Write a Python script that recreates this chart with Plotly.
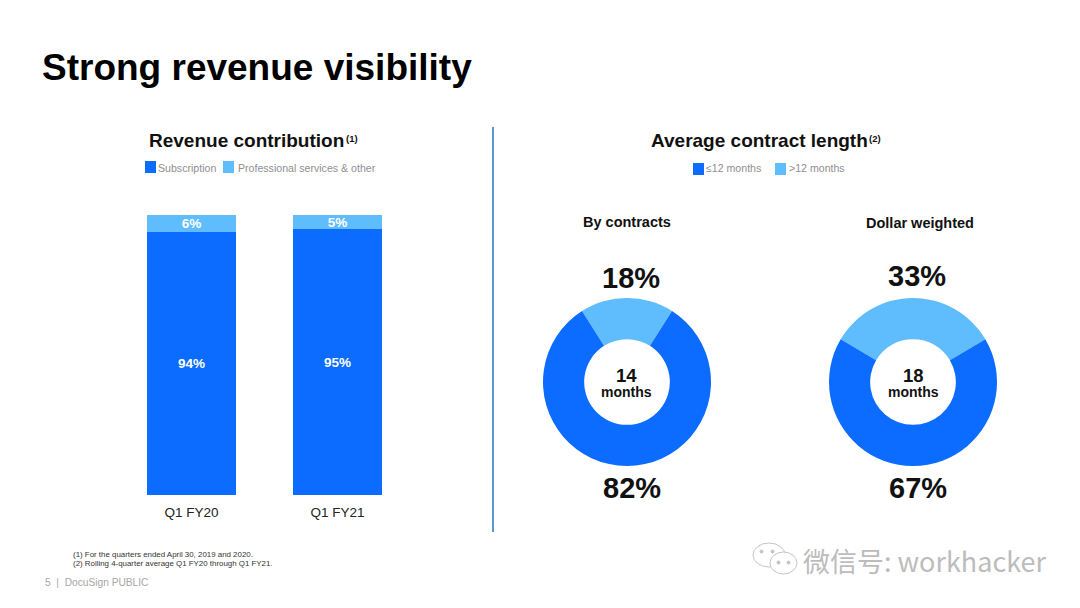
import plotly.graph_objects as go

W, H = 1080, 608
BLUE = "#0b6cff"
LIGHT = "#5fbdfd"
FONT = "Liberation Sans"

bar_categories = ["Q1 FY20", "Q1 FY21"]
subscription = [94, 95]
professional = [6, 5]
donut_labels = ["≤12 months", ">12 months"]
by_contracts = [82, 18]
dollar_weighted = [67, 33]
avg_months = [14, 18]


def px(x):
    return x / W


def py(y):
    return 1 - y / H


def note(x, y, text, size, color="#000000", bold=False, anchor="center", font=FONT):
    return dict(
        x=px(x - 2 if anchor == "left" else x), y=py(y), xref="paper", yref="paper",
        text=f"<b>{text}</b>" if bold else text,
        showarrow=False, xanchor=anchor, yanchor="middle", align="center",
        font=dict(family=font, size=size, color=color),
    )


def swatch(x0, y0, x1, y1, color):
    return dict(type="rect", xref="paper", yref="paper", x0=px(x0), x1=px(x1),
                y0=py(y0), y1=py(y1), fillcolor=color, line=dict(width=0), layer="above")


def ring(x0, y0, x1, y1, fill="white", line="#c4c4c4"):
    return dict(type="circle", xref="paper", yref="paper", x0=px(x0), x1=px(x1),
                y0=py(y0), y1=py(y1), line=dict(color=line, width=1), fillcolor=fill)


fig = go.Figure()
fig.add_bar(x=bar_categories, y=subscription, name="Subscription", marker_color=BLUE,
            marker_line_width=0, width=0.61, text=[f"<b>{v}%</b>" for v in subscription],
            textposition="inside", insidetextanchor="middle", constraintext="none",
            textfont=dict(family=FONT, size=13.5, color="white"), showlegend=False)
fig.add_bar(x=bar_categories, y=professional, name="Professional services & other", marker_color=LIGHT,
            marker_line_width=0, width=0.61, text=[f"<b>{v}%</b>" for v in professional],
            textposition="inside", insidetextanchor="middle", constraintext="none",
            textfont=dict(family=FONT, size=13.5, color="white"), showlegend=False)

for vals, x0, x1, name in [(by_contracts, 543, 711, "By contracts"),
                           (dollar_weighted, 829, 997, "Dollar weighted")]:
    fig.add_pie(labels=donut_labels[::-1], values=vals[::-1], name=name, sort=False,
                direction="clockwise", rotation=-vals[1] * 3.6 / 2, hole=0.51,
                marker=dict(colors=[LIGHT, BLUE], line=dict(width=0)),
                textinfo="none", textposition="none", showlegend=False,
                domain=dict(x=[px(x0), px(x1)], y=[py(466), py(298)]))

annotations = [
    note(42, 67, "Strong revenue visibility", 37, bold=True, anchor="left"),
    note(149, 140, "Revenue contribution", 19, color="#111111", bold=True, anchor="left"),
    note(346, 138, "(1)", 9.5, color="#111111", bold=True, anchor="left"),
    note(158, 167.5, "Subscription", 10.6, color="#8f8f8f", anchor="left"),
    note(238, 167.5, "Professional services &amp; other", 10.6, color="#8f8f8f", anchor="left"),
    note(651, 140, "Average contract length", 19, color="#111111", bold=True, anchor="left"),
    note(869, 138, "(2)", 9.5, color="#111111", bold=True, anchor="left"),
    note(706, 167.5, donut_labels[0], 10.6, color="#8f8f8f", anchor="left"),
    note(789, 167.5, donut_labels[1], 10.6, color="#8f8f8f", anchor="left"),
    note(627, 222.5, "By contracts", 14.5, color="#111111", bold=True),
    note(920, 223, "Dollar weighted", 14.5, color="#111111", bold=True),
    note(631, 278, f"{by_contracts[1]}%", 29, color="#111111", bold=True),
    note(632, 488, f"{by_contracts[0]}%", 29, color="#111111", bold=True),
    note(917, 276, f"{dollar_weighted[1]}%", 29, color="#111111", bold=True),
    note(918, 488, f"{dollar_weighted[0]}%", 29, color="#111111", bold=True),
    note(626, 375, f"{avg_months[0]}", 18.5, color="#111111", bold=True),
    note(626, 392, "months", 14, color="#111111", bold=True),
    note(913, 375, f"{avg_months[1]}", 18.5, color="#111111", bold=True),
    note(913, 392, "months", 14, color="#111111", bold=True),
    note(73, 554.5, "(1) For the quarters ended April 30, 2019 and 2020.", 7.9, color="#333333", anchor="left"),
    note(73, 563, "(2) Rolling 4-quarter average Q1 FY20 through Q1 FY21.", 7.9, color="#333333", anchor="left"),
    note(45, 582.5, "5  |  DocuSign PUBLIC", 10.2, color="#a6a6a6", anchor="left"),
    note(803, 560, "微信号: workhacker", 27, color="#bcbcbc", anchor="left", font="Noto Sans CJK SC"),
]

shapes = [
    dict(type="line", xref="paper", yref="paper", x0=px(493), x1=px(493), y0=py(127), y1=py(532),
         line=dict(color="#2a70c4", width=1.5)),
    swatch(145, 161, 156, 173, BLUE),
    swatch(223, 161, 234, 173, LIGHT),
    swatch(693, 163, 704, 175, BLUE),
    swatch(775, 163, 786, 175, LIGHT),
    ring(753, 567, 785, 543),
    ring(770, 574, 797, 552),
    ring(760, 553, 763, 550, fill="#c4c4c4"),
    ring(771, 553, 774, 550, fill="#c4c4c4"),
    ring(777, 564, 780, 561, fill="#c4c4c4"),
    ring(787, 564, 790, 561, fill="#c4c4c4"),
]

fig.update_layout(
    width=W, height=H, autosize=False, barmode="stack", bargap=0.39,
    paper_bgcolor="white", plot_bgcolor="white",
    margin=dict(l=0, r=0, t=0, b=0), showlegend=False,
    font=dict(family=FONT),
    annotations=annotations, shapes=shapes,
    xaxis=dict(domain=[px(118.5), px(410.5)], range=[-0.5, 1.5], showgrid=False, zeroline=False,
               showline=False, ticks="", ticklabelstandoff=7,
               tickfont=dict(family=FONT, size=13.5, color="#222222")),
    yaxis=dict(domain=[py(495), py(215)], range=[0, 100], visible=False),
)

fig.write_html("out.html", config={"displayModeBar": False},
               post_script="document.body.style.margin='0';document.documentElement.style.overflow='hidden';")
